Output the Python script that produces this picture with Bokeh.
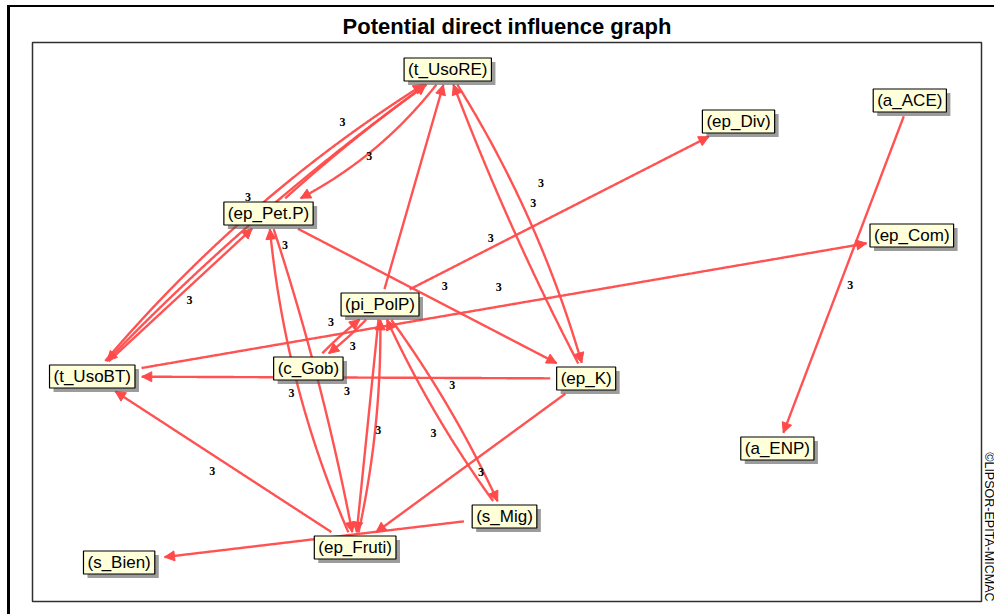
import numpy as np
from bokeh.plotting import figure
from bokeh.models import Range1d, LabelSet, Title, ColumnDataSource, Arrow, NormalHead
from bokeh.core.properties import value
from bokeh.embed import file_html
from bokeh.resources import INLINE

# ---------------- data ----------------
node_names = ["t_UsoRE", "ep_Div", "a_ACE", "ep_Pet.P", "ep_Com", "pi_PolP", "t_UsoBT",
              "c_Gob", "ep_K", "a_ENP", "s_Mig", "ep_Fruti", "s_Bien"]
node_x = [449, 741, 913, 269, 915, 381, 92, 309, 588, 780, 506, 356, 119]
node_y = [69, 121, 100, 213, 235, 304, 376, 368, 378, 448, 516, 547, 562]

edge_src = ["a_ACE", "pi_PolP", "t_UsoBT", "ep_K", "ep_Pet.P", "t_UsoRE", "ep_K", "pi_PolP",
            "ep_K", "s_Mig", "pi_PolP", "s_Mig", "ep_Fruti", "pi_PolP", "ep_Fruti", "ep_Pet.P",
            "c_Gob", "pi_PolP", "ep_Fruti", "t_UsoBT", "t_UsoRE", "ep_Pet.P", "t_UsoRE", "t_UsoBT"]
edge_dst = ["a_ENP", "ep_Div", "ep_Com", "t_UsoBT", "ep_K", "ep_K", "t_UsoRE", "t_UsoRE",
            "ep_Fruti", "s_Bien", "s_Mig", "pi_PolP", "pi_PolP", "ep_Fruti", "ep_Pet.P", "ep_Fruti",
            "pi_PolP", "c_Gob", "t_UsoBT", "t_UsoRE", "t_UsoBT", "t_UsoRE", "ep_Pet.P", "ep_Pet.P"]
edge_value = [3] * len(edge_src)
# curvature of each link (perpendicular bow) and where its value label sits
edge_bend = [0, 0, 0, 0, 0, 13, 5.5, 0, 0, 0, 7, 7, -8, 0, 15, 6, 3, 3, 0, 20, -12, 4, 16, 0]
label_t = [0.52, 0.32, 0.50, 0.484, 0.53, 0.42, 0.537, 0.5, 0.49, 0.5, 0.43, 0.44, 0.49, 0.5,
           0.48, 0.10, 0.5, 0.5, 0.515, 0.5, 0.5, 0.5, 0.5, 0.514]
label_off = [10, 9, 19, 13, 17, 26, -29, 0, 13.5, 0, 15, 12, -3, 0, 8, 6, 17, 10, 14, 14, 0, 21, 2, -10]
label_show = [1, 1, 1, 1, 1, 1, 1, 0, 1, 0, 1, 1, 1, 0, 1, 1, 1, 1, 1, 1, 0, 1, 1, 1]

# ---------------- geometry helpers ----------------
RED = "#FF4A4A"
pos = {n: (x, y) for n, x, y in zip(node_names, node_x, node_y)}
half_w = {n: 4.6 * (len(n) + 2) + 4 for n in node_names}
HALF_H, GAP = 11, 4


def inside(n, px, py):
    cx, cy = pos[n]
    return abs(px - cx) <= half_w[n] + GAP and abs(py - cy) <= HALF_H + GAP


curve_xs, curve_ys = [], []
ax0, ay0, ax1, ay1 = [], [], [], []
lab_x, lab_y, lab_text = [], [], []
ts = np.linspace(0, 1, 400)
for s, d, b, lt, lo, sh, v in zip(edge_src, edge_dst, edge_bend, label_t, label_off, label_show, edge_value):
    x0, y0 = pos[s]
    x2, y2 = pos[d]
    L = np.hypot(x2 - x0, y2 - y0)
    dx, dy = (x2 - x0) / L, (y2 - y0) / L
    nx, ny = dy, -dx
    cx = (x0 + x2) / 2 + 2 * b * nx
    cy = (y0 + y2) / 2 + 2 * b * ny
    bx = (1 - ts) ** 2 * x0 + 2 * (1 - ts) * ts * cx + ts ** 2 * x2
    by = (1 - ts) ** 2 * y0 + 2 * (1 - ts) * ts * cy + ts ** 2 * y2
    keep = np.array([not inside(s, px, py) and not inside(d, px, py) for px, py in zip(bx, by)])
    idx = np.where(keep)[0]
    i0, i1 = idx[0], idx[-1]
    curve_xs.append(list(bx[i0:i1 + 1]))
    curve_ys.append(list(by[i0:i1 + 1]))
    ax0.append(bx[i1 - 6]); ay0.append(by[i1 - 6])
    ax1.append(bx[i1]); ay1.append(by[i1])
    if sh:
        t = lt
        px = (1 - t) ** 2 * x0 + 2 * (1 - t) * t * cx + t ** 2 * x2
        py = (1 - t) ** 2 * y0 + 2 * (1 - t) * t * cy + t ** 2 * y2
        lab_x.append(px + lo * nx)
        lab_y.append(py + lo * ny)
        lab_text.append(str(v))

# ---------------- figure ----------------
p = figure(width=987, height=609, x_range=Range1d(32, 985), y_range=Range1d(601, 42),
           output_backend="svg", toolbar_location=None, x_axis_location=None, y_axis_location=None,
           min_border_left=22, min_border_right=12, min_border_top=35, min_border_bottom=15,
           title="Potential direct influence graph")
p.styles = {"margin-left": "7px", "margin-top": "5px",
            "border-left": "3px solid black", "border-top": "2px solid black"}
p.grid.visible = False
p.background_fill_color = "white"
p.border_fill_color = "white"
p.outline_line_color = "#303030"
p.outline_line_width = 1.5
p.title.align = "center"
p.title.text_font = "Liberation Sans"
p.title.text_font_size = "22px"
p.title.text_font_style = "bold"
p.title.text_color = "black"
p.title.standoff = 7

p.add_layout(Title(text="©LIPSOR-EPITA-MICMAC", align="right", text_font="Liberation Sans",
                   text_font_size="12.5px", text_font_style="normal", text_color="black",
                   standoff=0), "right")

p.multi_line(curve_xs, curve_ys, line_color=RED, line_width=2.4, line_alpha=0.95)

arrow_src = ColumnDataSource(dict(x0=ax0, y0=ay0, x1=ax1, y1=ay1))
p.add_layout(Arrow(x_start="x0", y_start="y0", x_end="x1", y_end="y1", source=arrow_src,
                   line_color=RED, line_width=2.4, level="underlay",
                   end=NormalHead(size=10, fill_color=RED, line_color=RED, line_width=1)))

node_src = ColumnDataSource(dict(x=node_x, y=node_y, text=["(" + n + ")" for n in node_names]))
pad = dict(left=4, right=4, top=2, bottom=2)
p.text(x="x", y="y", text="text", source=node_src, text_font=value("Liberation Sans"),
       text_font_size="17px", text_alpha=0, text_align="center", text_baseline="middle",
       x_offset=4, y_offset=4, background_fill_color="#5a5a5a", background_fill_alpha=0.6,
       padding=pad)
p.text(x="x", y="y", text="text", source=node_src, text_font=value("Liberation Sans"),
       text_font_size="17px", text_color="black", text_align="center", text_baseline="middle",
       background_fill_color="#FFFFDA", border_line_color="black", border_line_width=1.2,
       padding=pad)

lab_src = ColumnDataSource(dict(x=lab_x, y=lab_y, text=lab_text))
p.add_layout(LabelSet(x="x", y="y", text="text", source=lab_src, text_font="Liberation Sans",
                      text_font_size="12px", text_font_style="bold", text_color="black",
                      text_align="center", text_baseline="middle"))

open("out.html", "w").write(file_html(p, INLINE))
